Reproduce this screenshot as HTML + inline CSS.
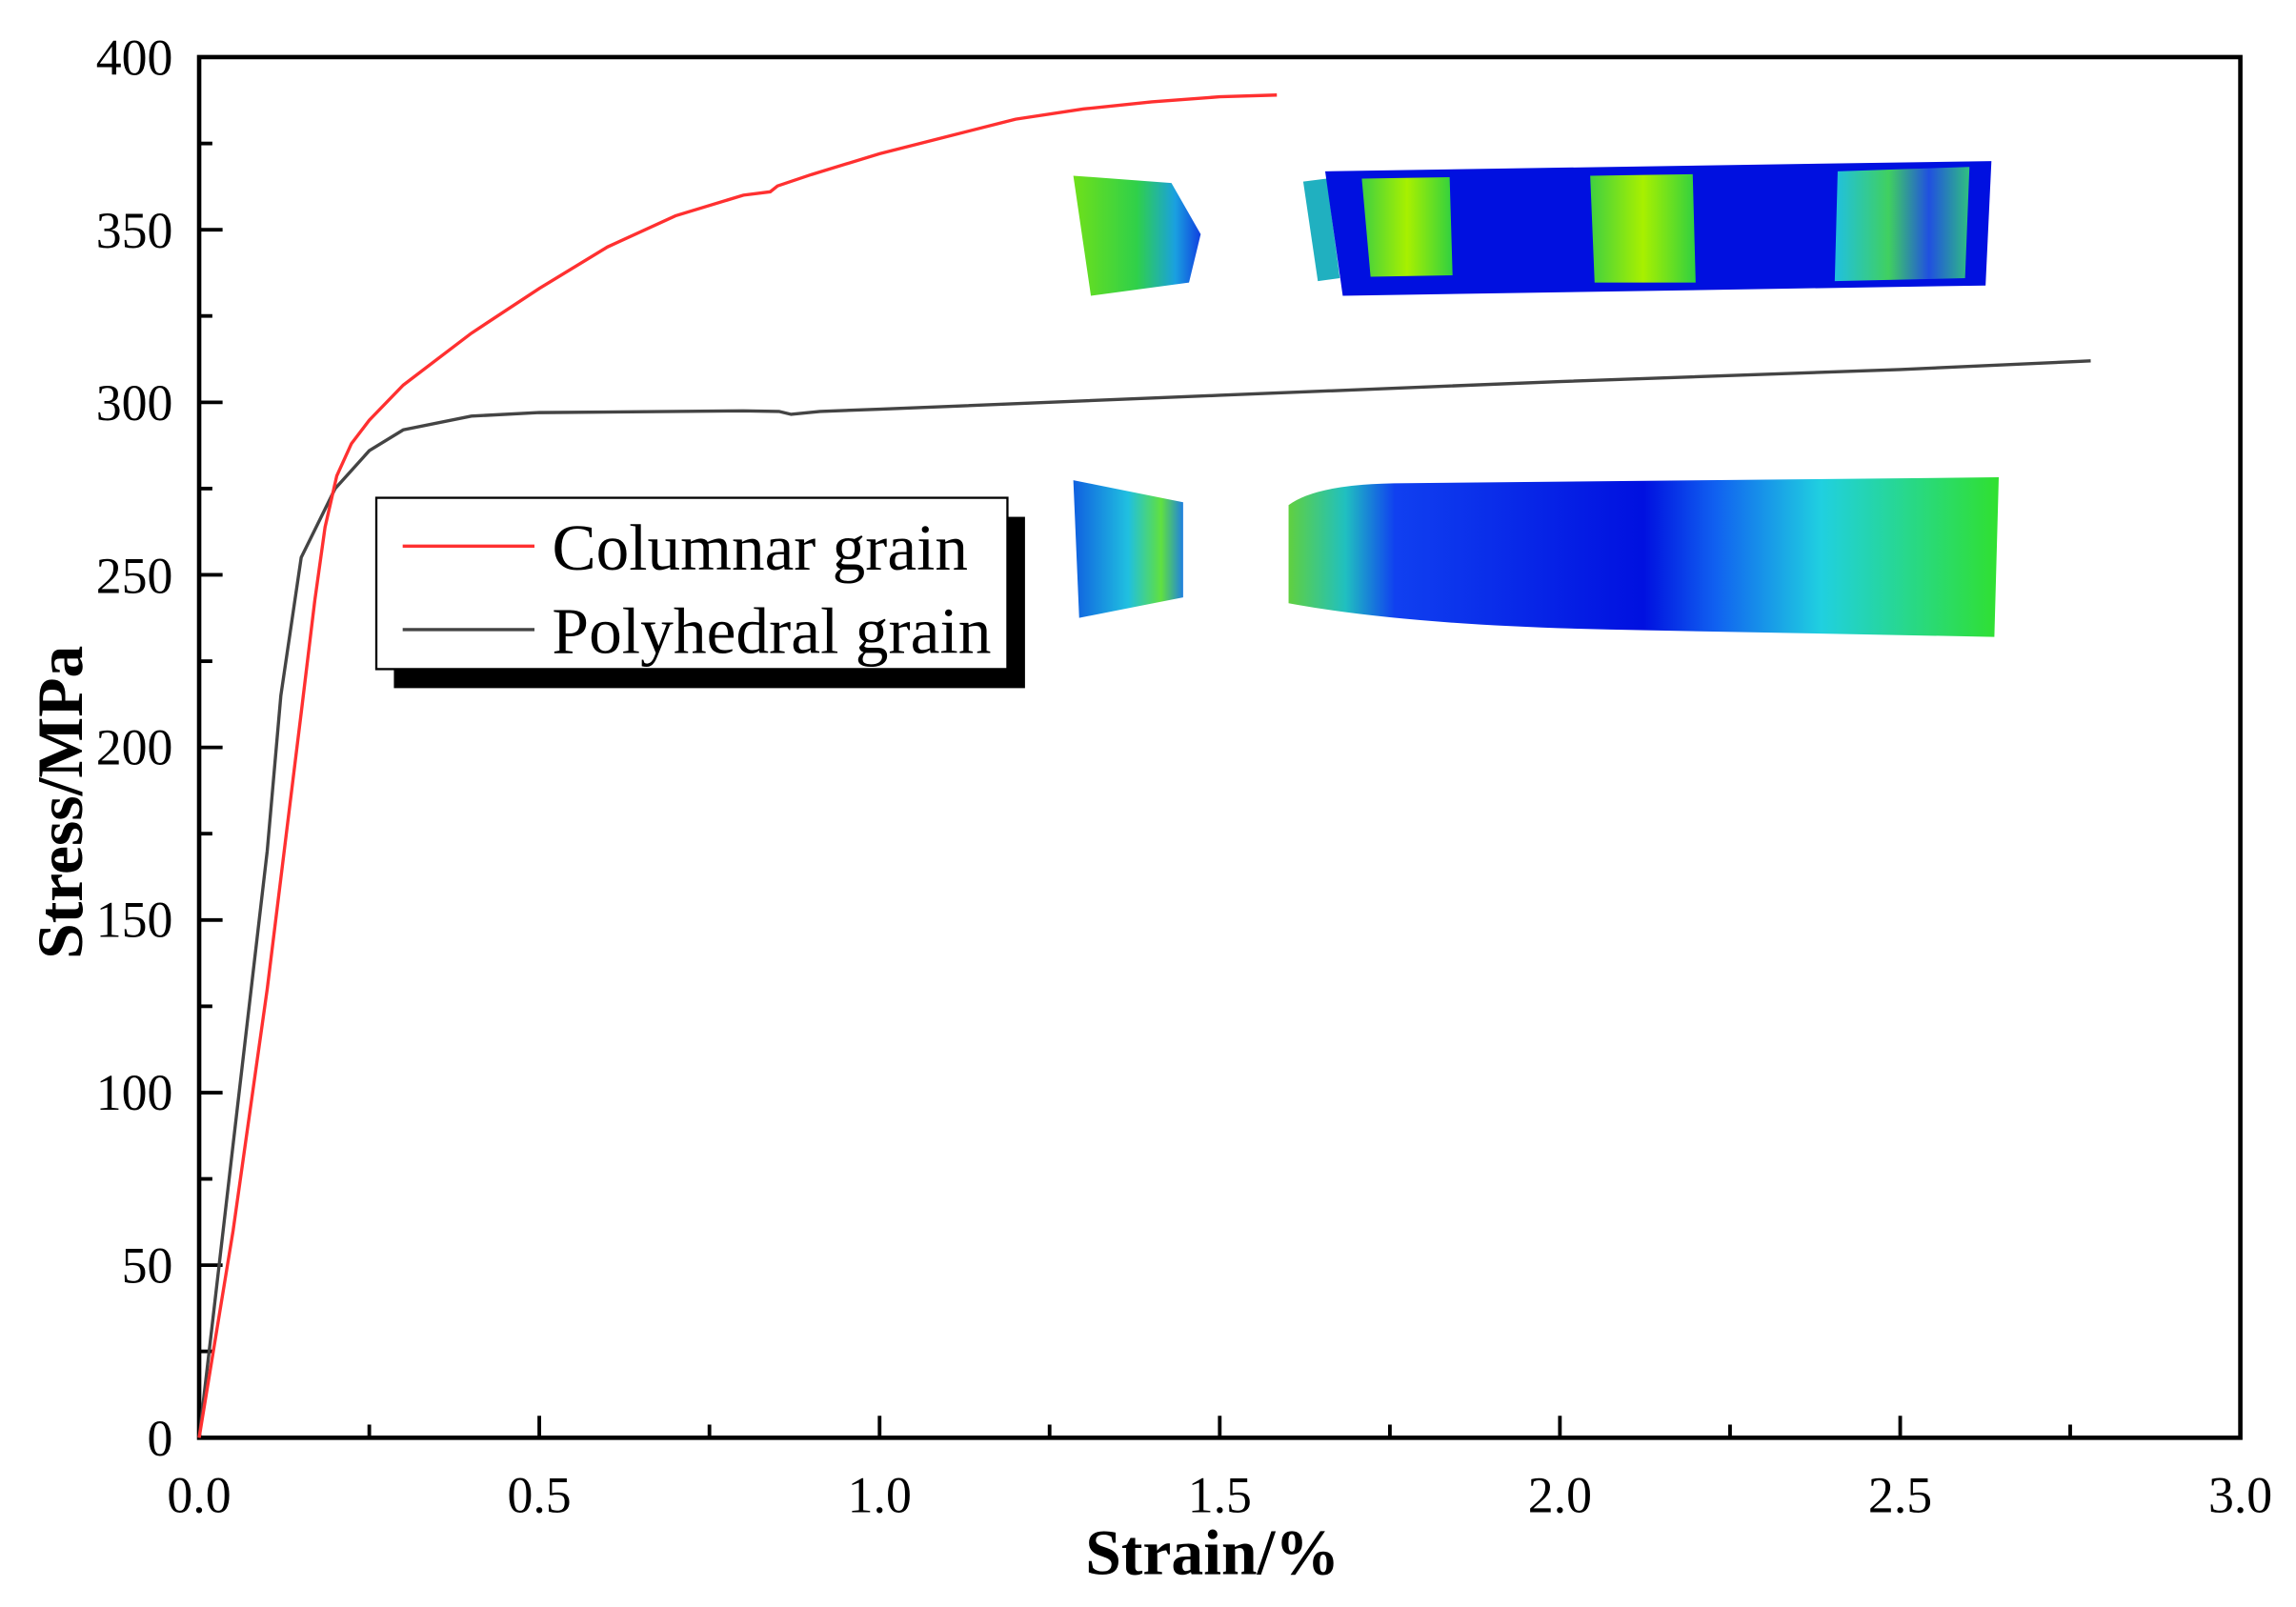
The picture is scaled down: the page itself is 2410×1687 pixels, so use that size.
<!DOCTYPE html>
<html><head><meta charset="utf-8"><style>
html,body{margin:0;padding:0;background:#fff;}
svg{display:block;}
text{font-family:"Liberation Serif",serif;fill:#000;}
</style></head><body>
<svg width="2410" height="1687" viewBox="0 0 1568 1097.6" preserveAspectRatio="none" xmlns="http://www.w3.org/2000/svg">
<defs>
<linearGradient id="g1" x1="0" x2="1" y1="0" y2="0">
<stop offset="0" stop-color="#6fe01a"/><stop offset="0.5" stop-color="#2fd04a"/><stop offset="0.8" stop-color="#1aa0e0"/><stop offset="1" stop-color="#1040e0"/>
</linearGradient>
<linearGradient id="band" x1="0" x2="1" y1="0" y2="0">
<stop offset="0" stop-color="#40d040"/><stop offset="0.5" stop-color="#a8f000"/><stop offset="1" stop-color="#30d040"/>
</linearGradient>
<linearGradient id="band3" x1="0" x2="1" y1="0" y2="0">
<stop offset="0" stop-color="#20c0e0"/><stop offset="0.4" stop-color="#40d060"/><stop offset="0.7" stop-color="#2050e0"/><stop offset="1" stop-color="#30c080"/>
</linearGradient>
<linearGradient id="g2" x1="0" x2="1" y1="0" y2="0">
<stop offset="0" stop-color="#60d040"/><stop offset="0.08" stop-color="#20c0c0"/><stop offset="0.15" stop-color="#1040f0"/><stop offset="0.5" stop-color="#0010e0"/><stop offset="0.6" stop-color="#1060f0"/><stop offset="0.75" stop-color="#20d0e0"/><stop offset="1" stop-color="#30e030"/>
</linearGradient>
<linearGradient id="g3" x1="0" x2="1" y1="0" y2="0">
<stop offset="0" stop-color="#1060e0"/><stop offset="0.5" stop-color="#20c0e0"/><stop offset="0.8" stop-color="#60e040"/><stop offset="1" stop-color="#2080e0"/>
</linearGradient>
</defs>
<polygon points="733,120 800,125 820,160 812,193 745,202" fill="url(#g1)"/>
<polygon points="890,124 906,122 915,190 900,192" fill="#20b0c0"/>
<polygon points="905,117 1360,110 1356,195 917,202" fill="#0010e0"/>
<polygon points="930,122 990,121 992,188 936,189" fill="url(#band)"/>
<polygon points="1086,120 1156,119 1158,193 1089,193" fill="url(#band)"/>
<polygon points="1255,117 1345,114 1342,190 1253,192" fill="url(#band3)"/>
<polygon points="733,328 808,343 808,408 737,422" fill="url(#g3)"/>
<path d="M880,345 Q900,330 960,330 L1365,326 L1362,435 L1100,430 Q960,427 880,412 Z" fill="url(#g2)"/>
<rect x="136" y="39" width="1394" height="943" fill="none" stroke="#000" stroke-width="3"/>
<g stroke="#000" stroke-width="2.5">
<line x1="136" y1="982" x2="152" y2="982"/><line x1="136" y1="864.1" x2="152" y2="864.1"/><line x1="136" y1="746.3" x2="152" y2="746.3"/><line x1="136" y1="628.4" x2="152" y2="628.4"/><line x1="136" y1="510.5" x2="152" y2="510.5"/><line x1="136" y1="392.6" x2="152" y2="392.6"/><line x1="136" y1="274.8" x2="152" y2="274.8"/><line x1="136" y1="156.9" x2="152" y2="156.9"/>
<line x1="136" y1="923" x2="145" y2="923"/><line x1="136" y1="805.2" x2="145" y2="805.2"/><line x1="136" y1="687.3" x2="145" y2="687.3"/><line x1="136" y1="569.4" x2="145" y2="569.4"/><line x1="136" y1="451.6" x2="145" y2="451.6"/><line x1="136" y1="333.7" x2="145" y2="333.7"/><line x1="136" y1="215.8" x2="145" y2="215.8"/><line x1="136" y1="98" x2="145" y2="98"/>
<line x1="368.3" y1="982" x2="368.3" y2="967"/><line x1="600.7" y1="982" x2="600.7" y2="967"/><line x1="833" y1="982" x2="833" y2="967"/><line x1="1065.3" y1="982" x2="1065.3" y2="967"/><line x1="1297.7" y1="982" x2="1297.7" y2="967"/>
<line x1="252.2" y1="982" x2="252.2" y2="973"/><line x1="484.5" y1="982" x2="484.5" y2="973"/><line x1="716.8" y1="982" x2="716.8" y2="973"/><line x1="949.2" y1="982" x2="949.2" y2="973"/><line x1="1181.5" y1="982" x2="1181.5" y2="973"/><line x1="1413.8" y1="982" x2="1413.8" y2="973"/>
</g>
<g font-size="35" text-anchor="end">
<text x="118" y="994">0</text><text x="118" y="876">50</text><text x="118" y="758">100</text><text x="118" y="640">150</text><text x="118" y="522">200</text><text x="118" y="405">250</text><text x="118" y="287">300</text><text x="118" y="169">350</text><text x="118" y="51">400</text>
</g>
<g font-size="35" text-anchor="middle">
<text x="136" y="1033">0.0</text><text x="368.3" y="1033">0.5</text><text x="600.7" y="1033">1.0</text><text x="833" y="1033">1.5</text><text x="1065.3" y="1033">2.0</text><text x="1297.7" y="1033">2.5</text><text x="1530" y="1033">3.0</text>
</g>
<text x="828" y="1075" font-size="44" font-weight="bold" text-anchor="middle">Strain/%</text>
<text transform="translate(56,548) rotate(-90)" font-size="44" font-weight="bold" text-anchor="middle">Stress/MPa</text>
<polyline fill="none" stroke="#444" stroke-width="2.2" points="136,982 159.2,781.6 182.5,581.2 191.8,475.1 205.7,380.8 228.9,333.7 252.2,307.8 275.4,293.6 321.9,284.2 368.3,281.8 507.7,280.6 532,281 540.3,283 560,281 600.7,279.5 833,270 1065.3,260.6 1297.7,252.4 1427.8,246.5"/>
<polyline fill="none" stroke="#ff3030" stroke-width="2.2" points="136,982 159.2,840.5 182.5,675.5 205.7,486.9 215,410 222,360 230,325 240,303 252.2,287 275.4,263 321.9,227.6 368.3,197 414.8,168.7 461.3,147.4 507.7,133.3 526,131 531,127 554.2,119.2 600.7,105 647.1,93.2 693.6,81.4 740.1,74.4 786.5,69.6 833,66.1 872,64.9"/>
<rect x="269" y="353" width="431" height="117" fill="#000"/>
<rect x="257" y="340" width="431" height="117" fill="#fff" stroke="#000" stroke-width="1.5"/>
<line x1="275" y1="373" x2="365" y2="373" stroke="#ff3030" stroke-width="2.2"/>
<line x1="275" y1="430" x2="365" y2="430" stroke="#444" stroke-width="2.2"/>
<text x="377" y="389" font-size="45" textLength="284" lengthAdjust="spacingAndGlyphs">Columnar grain</text>
<text x="377" y="446" font-size="45" textLength="300" lengthAdjust="spacingAndGlyphs">Polyhedral grain</text>
</svg>
</body></html>
